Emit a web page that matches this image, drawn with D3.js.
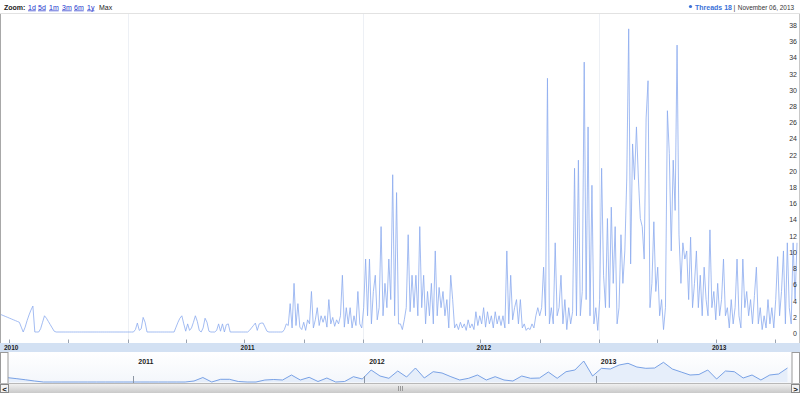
<!DOCTYPE html>
<html><head><meta charset="utf-8">
<script src="https://cdn.jsdelivr.net/npm/d3@7"></script>
<style>
body{margin:0;background:#fff;}
svg{display:block;font-family:Arial,"Liberation Sans",sans-serif;}
</style>
</head><body>
<svg id="c" width="800" height="393"></svg>
<script>
// ---------- data ----------
const startDate = "2010-06-17";
const stepDays = 3;
const threads = [
 2.2,2.1,2.0,1.9,1.8,1.7,1.6,1.5,1.4,1.3,1.2,0.6,0,0.6,1.4,2.1,2.7,3.2,0,0,
 0,0.4,1.2,2.0,1.7,1.3,0.9,0.5,0.1,0,0,0,0,0,0,0,0,0,0,0,
 0,0,0,0,0,0,0,0,0,0,0,0,0,0,0,0,0,0,0,0,
 0,0,0,0,0,0,0,0,0,0,0.3,1.1,0.2,0.4,1.8,1.2,0,0,0,0,
 0,0,0,0,0,0,0,0,0,0,0,0.6,1.2,1.7,2.0,1.0,0.1,1.0,0.2,0.5,
 1.2,2.0,1.3,0.2,0,0.5,1.7,1.2,0.1,0,0,0,0.2,1.0,0.1,1.0,0,0.9,1.0,0,
 0,0,0,0,0,0,0,0,0,0.2,0.5,0.8,1.1,0.2,1.0,1.1,1.1,0.6,0.1,0,
 0,0,0,0,0,0,0,0.3,1.0,0.8,3.5,0.5,6.0,0.8,3.5,0.6,0.3,1.2,0.2,1.5,
 1.0,5.0,0.5,1.5,3.0,0.8,2.0,1.2,2.0,0.6,4.0,1.0,1.8,0.7,1.5,1.0,2.0,7.0,0.6,3.0,
 1.0,3.0,0.5,2.0,0.8,5.0,1.0,0.5,3.0,9.0,2.0,9.0,1.0,5.0,7.0,1.5,3.0,13.0,2.0,6.0,
 3.0,9.0,4.0,19.4,2.0,17.2,1.0,1.0,0.3,1.5,3.0,12.0,2.5,7.0,3.0,7.0,2.0,13.0,3.0,7.0,
 1.0,5.0,2.0,6.0,1.0,10.0,2.0,5.5,3.0,5.0,2.0,4.0,0.5,7.0,4.0,0.5,1.0,0.3,1.2,0.5,
 1.0,0.2,1.5,0.5,1.0,0.3,2.5,0.8,2.0,1.0,3.0,0.6,2.5,1.0,2.0,0.5,2.5,1.0,2.0,0.8,
 2.0,0.5,10.0,1.0,7.0,1.5,3.0,4.0,1.0,4.0,0.5,1.0,0.2,0.5,0.3,1.0,0.5,2.0,3.0,2.0,
 3.0,8.0,2.0,31.3,1.0,3.0,1.0,11.0,2.0,3.0,7.0,1.0,4.0,0.3,3.0,1.0,2.5,20.2,2.0,21.2,
 2.0,5.0,33.3,4.0,25.3,2.0,18.1,1.0,3.0,0.2,4.0,20.2,7.0,3.0,14.0,3.0,15.4,6.0,13.0,1.0,
 3.0,12.0,6.0,10.0,19.0,37.4,8.4,23.2,18.8,25.3,19.0,14.0,13.0,9.0,26.4,31.0,3.0,6.0,13.6,5.0,
 8.0,2.0,4.0,0.3,3.0,27.3,22.0,10.0,21.2,15.0,35.4,12.0,6.0,11.0,9.0,10.0,4.0,11.7,3.0,6.0,
 10.0,3.0,7.0,2.0,8.0,4.0,2.0,12.6,3.0,5.0,1.5,6.0,2.0,4.0,9.0,2.0,3.0,0.5,4.0,1.0,
 3.0,9.0,2.0,0.5,9.0,3.0,5.0,2.0,4.0,1.0,4.5,8.0,1.0,3.0,0.3,2.0,0.5,4.0,1.0,3.0,
 0.5,4.0,9.3,2.0,5.0,10.0,1.0,11.0,3.0,1.0,11.0,4.0,11.0
];
const overviewStepDays = 14;
const overview = [
 4.3,3.3,2.2,1.0,0,0,0,0,0,0,0,0,0,0,0,0,0,0,0,0,0,
 1,4.5,0,2.7,2.7,0.5,0,0,2,2.5,2,7,2,4.7,0.5,4,0,0.5,5.3,
 3,12,6,3.7,11,5,14,4,10.3,9,5.3,2,3.7,7,2,5.3,2,1,6,3.7,
 4,10,3.7,10.3,12,21,6,13.7,13,17,18.7,15,13.7,14,19.7,13,10,7,7.5,12,
 3,11,10.3,4,7,2,7,8,14
];
const yTickValues = [0,2,4,6,8,10,12,14,16,18,20,22,24,26,28,30,32,34,36,38];
const axisLabels = ["2010","2011","2012","2013"];
const axisLabelDates = ["2010-06-20","2011-06-22","2012-06-22","2013-06-22"];
const overviewLabels = ["2011","2012","2013"];
const overviewLabelDates = ["2011-01-01","2012-01-01","2013-01-01"];
const zoomLinks = ["1d","5d","1m","3m","6m","1y"];
const zoomLinkOffsets = [28,38,49,62,74,87];
const seriesName = "Threads 18";
const dateText = "November 06, 2013";

// ---------- setup ----------
const parse = d3.timeParse("%Y-%m-%d");
const t0 = parse(startDate);
const tEnd = d3.timeDay.offset(t0, stepDays*(threads.length-1));
const mainData = threads.map((v,i)=>({d:d3.timeDay.offset(t0,i*stepDays),v}));
const ovData = overview.map((v,i)=>({d:d3.timeDay.offset(t0,i*overviewStepDays),v}));

const svg = d3.select("#c");
const x = d3.scaleTime().domain([t0,tEnd]).range([0,797]);
const y = d3.scaleLinear().domain([0,38]).range([332,24]);
const xo = d3.scaleTime().domain([t0,tEnd]).range([8,790]);
const yo = d3.scaleLinear().domain([0,30]).range([382,352]);

const defs = svg.append("defs");
const g1 = defs.append("linearGradient").attr("id","sb").attr("x1",0).attr("y1",0).attr("x2",0).attr("y2",1);
g1.append("stop").attr("offset","0%").attr("stop-color","#f0f0f0");
g1.append("stop").attr("offset","100%").attr("stop-color","#c9c9c9");
const g2 = defs.append("linearGradient").attr("id","ovbg").attr("x1",0).attr("y1",0).attr("x2",0).attr("y2",1);
g2.append("stop").attr("offset","0%").attr("stop-color","#ffffff");
g2.append("stop").attr("offset","100%").attr("stop-color","#f3f6fb");

// ---------- top bar ----------
const topBar = svg.append("g");
topBar.append("text").attr("x",4).attr("y",9.5).attr("font-size",7).attr("font-weight","bold").attr("fill","#222").text("Zoom:");
topBar.selectAll("text.z").data(zoomLinks).join("text").attr("class","z")
  .attr("x",(d,i)=>zoomLinkOffsets[i]).attr("y",9.5).attr("font-size",7).attr("fill","#2233cc")
  .attr("text-decoration","underline").text(d=>d);
topBar.append("text").attr("x",99).attr("y",9.5).attr("font-size",7).attr("fill","#222").text("Max");

topBar.append("circle").attr("cx",690.5).attr("cy",6.5).attr("r",1.6).attr("fill","#3a70d8");
topBar.append("text").attr("x",695).attr("y",9.5).attr("font-size",7).attr("font-weight","bold").attr("fill","#3a70d8").text(seriesName);
topBar.append("text").attr("x",733.5).attr("y",9.5).attr("font-size",7).attr("fill","#444").text("|");
topBar.append("text").attr("x",794).attr("y",9.5).attr("font-size",6.4).attr("fill","#333").attr("text-anchor","end").text(dateText);

// ---------- main chart ----------
svg.append("line").attr("x1",0).attr("x2",800).attr("y1",13.5).attr("y2",13.5).attr("stroke","#e2e2e2");
const years = d3.timeYear.range(d3.timeYear.ceil(t0), tEnd);
svg.append("g").selectAll("line").data(years).join("line")
  .attr("x1",d=>Math.round(x(d))+0.5).attr("x2",d=>Math.round(x(d))+0.5)
  .attr("y1",14).attr("y2",342).attr("stroke","#edf0f5");

const line = d3.line().x(d=>x(d.d)).y(d=>y(d.v));
svg.append("path").datum(mainData).attr("d",line)
  .attr("fill","none").attr("stroke","#8cabef").attr("stroke-width",0.8).attr("stroke-linejoin","round");

// y labels
svg.append("g").selectAll("text").data(yTickValues).join("text")
  .attr("x",797).attr("y",d=>y(d)+1.5).attr("dy","0.35em").attr("text-anchor","end")
  .attr("font-size",7).attr("fill","#333").text(d=>d);

// borders
svg.append("line").attr("x1",0.5).attr("x2",0.5).attr("y1",14).attr("y2",352).attr("stroke","#a8a8a8");
svg.append("line").attr("x1",799.5).attr("x2",799.5).attr("y1",14).attr("y2",352).attr("stroke","#c8c8c8");

// axis band
svg.append("rect").attr("x",0).attr("y",343).attr("width",800).attr("height",9).attr("fill","#d3e1f3");
const quarters = d3.timeMonth.every(3).range(t0, tEnd);
svg.append("g").selectAll("line").data(quarters).join("line")
  .attr("x1",d=>Math.round(x(d))+0.5).attr("x2",d=>Math.round(x(d))+0.5)
  .attr("y1",339.5).attr("y2",343).attr("stroke","#9aa3b0");
svg.append("g").selectAll("text").data(axisLabels).join("text")
  .attr("x",(d,i)=>x(parse(axisLabelDates[i]))+2).attr("y",350)
  .attr("font-size",6.5).attr("font-weight","bold").attr("fill","#222").text(d=>d);

// ---------- overview ----------
svg.append("rect").attr("x",0).attr("y",352).attr("width",800).attr("height",32).attr("fill","url(#ovbg)");
const area = d3.area().x(d=>xo(d.d)).y0(yo(0)).y1(d=>yo(d.v));
svg.append("path").datum(ovData).attr("d",area).attr("fill","#e6eefa");
svg.append("path").datum(ovData).attr("d",d3.line().x(d=>xo(d.d)).y(d=>yo(d.v)))
  .attr("fill","none").attr("stroke","#6b97e2").attr("stroke-width",0.9);
svg.append("g").selectAll("line").data(overviewLabelDates).join("line")
  .attr("x1",d=>Math.round(xo(parse(d)))+0.5).attr("x2",d=>Math.round(xo(parse(d)))+0.5)
  .attr("y1",376).attr("y2",383).attr("stroke","#8c96a4");
svg.append("g").selectAll("text").data(overviewLabels).join("text")
  .attr("x",(d,i)=>xo(parse(overviewLabelDates[i]))+5).attr("y",363.5)
  .attr("font-size",7).attr("font-weight","bold").attr("fill","#222").text(d=>d);
// handles
svg.append("rect").attr("x",0.5).attr("y",352.5).attr("width",7.5).attr("height",31).attr("fill","#fff").attr("stroke","#9a9a9a");
svg.append("rect").attr("x",792).attr("y",352.5).attr("width",7.5).attr("height",31).attr("fill","#fff").attr("stroke","#9a9a9a");
svg.append("line").attr("x1",0).attr("x2",800).attr("y1",383.5).attr("y2",383.5).attr("stroke","#b8b8b8");

// ---------- scrollbar ----------
svg.append("rect").attr("x",0).attr("y",384).attr("width",800).attr("height",9).attr("fill","url(#sb)");
svg.append("rect").attr("x",0.5).attr("y",384.5).attr("width",8).attr("height",8).attr("fill","#f4f4f4").attr("stroke","#888");
svg.append("rect").attr("x",791.5).attr("y",384.5).attr("width",8).attr("height",8).attr("fill","#f4f4f4").attr("stroke","#888");
svg.append("text").attr("x",4.5).attr("y",391.5).attr("text-anchor","middle").attr("font-size",8).attr("font-weight","bold").attr("fill","#111").text("<");
svg.append("text").attr("x",795.5).attr("y",391.5).attr("text-anchor","middle").attr("font-size",8).attr("font-weight","bold").attr("fill","#111").text(">");
svg.append("g").selectAll("line").data([-2,0,2]).join("line")
  .attr("x1",d=>400.5+d).attr("x2",d=>400.5+d).attr("y1",386).attr("y2",391).attr("stroke","#999");
</script>
</body></html>
